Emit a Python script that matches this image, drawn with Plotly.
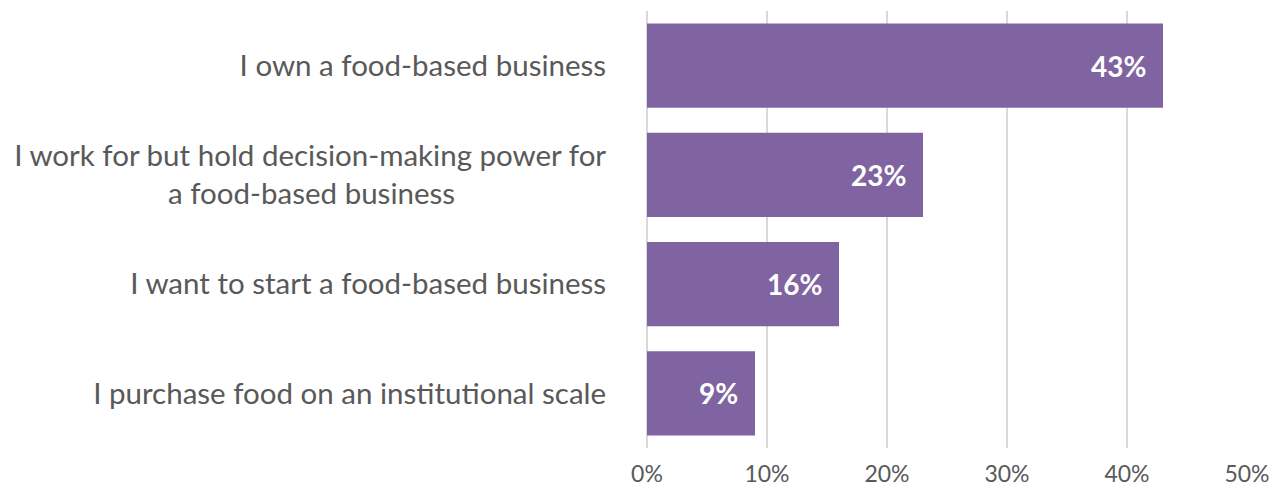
import plotly.graph_objects as go

categories = [
    "I own a food-based business",
    "I work for but hold decision-making power for<br>a food-based business" + "\u00a0" * 20,
    "I want to start a food-based business",
    "I purchase food on an institutional scale",
]
values = [43, 23, 16, 9]
tick_vals = [0, 10, 20, 30, 40, 50]
tick_text = ["0%", "10%", "20%", "30%", "40%", "50%"]

FONT = "Lato"
GRAY = "#595959"
BAR = "#8064A2"

fig = go.Figure(go.Bar(
    x=values, y=categories, orientation="h",
    marker=dict(color=BAR, line=dict(width=0)),
    hoverinfo="skip",
))

for c, v in zip(categories, values):
    fig.add_annotation(
        x=v, y=c, xref="x", yref="y", text=f"<b>{v}%</b>",
        showarrow=False, xanchor="right", xshift=-15,
        font=dict(family=FONT, size=28, color="white"),
    )

# page body has an 8px default margin: offset the figure to compensate
fig.update_layout(
    width=1274, height=481,
    margin=dict(l=639, r=35, t=3, b=41),
    paper_bgcolor="white", plot_bgcolor="white",
    bargap=0.23, showlegend=False,
    font=dict(family=FONT, color=GRAY),
)
fig.update_xaxes(
    range=[0, 50], tickvals=tick_vals, ticktext=tick_text,
    showgrid=True, gridcolor="#D9D9D9", gridwidth=2,
    zeroline=True, zerolinecolor="#D9D9D9", zerolinewidth=2,
    ticks="outside", ticklen=5, tickcolor="rgba(0,0,0,0)",
    tickfont=dict(family=FONT, size=23, color=GRAY),
    showline=False, fixedrange=True, automargin=False,
)
fig.update_yaxes(
    categoryorder="array", categoryarray=categories[::-1],
    showgrid=False, showline=False, zeroline=False,
    ticks="outside", ticklen=34, tickcolor="rgba(0,0,0,0)",
    tickfont=dict(family=FONT, size=29.5, color=GRAY),
    fixedrange=True, automargin=False,
)

fig.write_html("out.html")
